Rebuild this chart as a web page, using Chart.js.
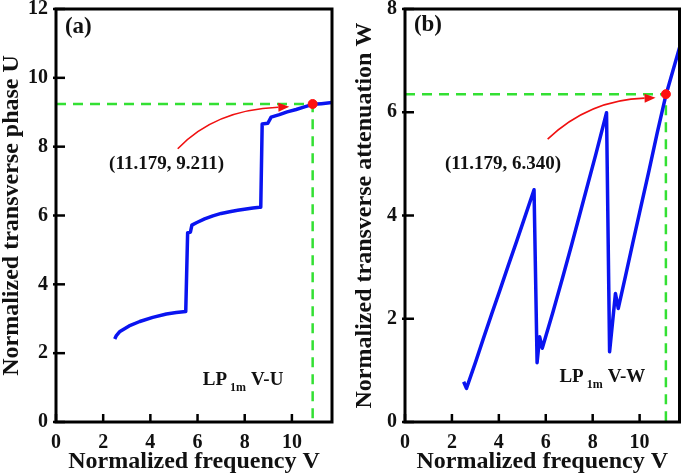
<!DOCTYPE html>
<html>
<head>
<meta charset="utf-8">
<script src="https://cdn.jsdelivr.net/npm/chart.js"></script>
<style>
body { margin: 0; background: #fff; }
#wrap { position: relative; width: 685px; height: 476px; }
.panel { position: absolute; top: 0; }
</style>
</head>
<body>
<div id="wrap">
  <div class="panel" style="left:0"><canvas id="ca" width="342" height="476"></canvas></div>
  <div class="panel" style="left:342px"><canvas id="cb" width="343" height="476"></canvas></div>
</div>
<script>
var xTicks = [0, 2, 4, 6, 8, 10];
var uTicks = [0, 2, 4, 6, 8, 10, 12];
var wTicks = [0, 2, 4, 6, 8];

// (a) LP1m V-U
var vA = [2.49, 2.55, 2.71, 3.1, 3.55, 4.1, 4.68, 5.1, 5.50, 5.58, 5.63, 5.70, 5.76, 5.95, 6.3, 6.65, 7.0, 7.36, 7.7, 8.06, 8.35, 8.63, 8.68, 8.74, 8.98, 9.12, 9.47, 9.8, 10.18, 10.5, 10.88, 11.25, 11.7];
var uA = [2.41, 2.50, 2.63, 2.79, 2.92, 3.04, 3.14, 3.18, 3.21, 5.50, 5.50, 5.52, 5.72, 5.79, 5.90, 5.99, 6.06, 6.11, 6.15, 6.19, 6.22, 6.24, 6.24, 8.66, 8.68, 8.86, 8.93, 9.01, 9.08, 9.15, 9.23, 9.25, 9.28];

// (b) LP1m V-W
var vB = [2.50, 2.62, 3.0, 3.35, 3.7, 4.05, 4.4, 4.75, 5.1, 5.50, 5.63, 5.74, 5.85, 6.3, 6.72, 7.1, 7.43, 7.8, 8.13, 8.59, 8.72, 8.97, 9.09, 9.4, 9.7, 10.0, 10.4, 10.75, 11.12, 11.7];
var wB = [0.78, 0.65, 1.15, 1.63, 2.10, 2.56, 3.03, 3.49, 3.96, 4.50, 1.15, 1.65, 1.43, 2.12, 2.80, 3.43, 3.99, 4.62, 5.18, 5.99, 1.36, 2.49, 2.20, 2.83, 3.45, 4.06, 4.87, 5.60, 6.33, 7.25];

// marked points
var markA = [10.88, 9.24];
var markB = [11.12, 6.35];

function pts(xs, ys) {
  return xs.map(function (x, i) { return { x: x, y: ys[i] }; });
}

var serif = 'Liberation Serif';

var panelPlugin = {
  id: 'panel',
  afterDraw: function (chart, args, o) {
    var ctx = chart.ctx, a = chart.chartArea;
    var xs = chart.scales.x, ys = chart.scales.y;
    function px(v) { return xs.getPixelForValue(v); }
    function py(v) { return ys.getPixelForValue(v); }
    ctx.save();
    ctx.strokeStyle = '#000';
    ctx.lineWidth = 2.5;
    xs.ticks.forEach(function (t) {
      var x = px(t.value);
      ctx.beginPath(); ctx.moveTo(x, a.bottom); ctx.lineTo(x, a.bottom - 8); ctx.stroke();
    });
    ys.ticks.forEach(function (t) {
      var y = py(t.value);
      ctx.beginPath(); ctx.moveTo(a.left - 3, y); ctx.lineTo(a.left + 9, y); ctx.stroke();
    });
    ctx.lineWidth = 3;
    ctx.strokeRect(a.left, a.top, a.right - a.left, a.bottom - a.top);

    // curved red arrow
    var ar = o.arrow;
    var x0 = px(ar[0]), y0 = py(ar[1]), cx = px(ar[2]), cy = py(ar[3]), x1 = px(ar[4]), y1 = py(ar[5]);
    ctx.strokeStyle = '#f01010';
    ctx.fillStyle = '#f01010';
    ctx.lineWidth = 1.6;
    var ang = Math.atan2(y1 - cy, x1 - cx);
    var bx = x1 - 11 * Math.cos(ang), by = y1 - 11 * Math.sin(ang);
    ctx.beginPath(); ctx.moveTo(x0, y0); ctx.quadraticCurveTo(cx, cy, bx, by); ctx.stroke();
    ctx.beginPath();
    ctx.moveTo(x1, y1);
    ctx.lineTo(bx + 4.5 * Math.sin(ang), by - 4.5 * Math.cos(ang));
    ctx.lineTo(bx - 4.5 * Math.sin(ang), by + 4.5 * Math.cos(ang));
    ctx.closePath(); ctx.fill();

    // texts
    ctx.fillStyle = '#111';
    ctx.font = 'bold 23px ' + serif;
    ctx.textAlign = 'left'; ctx.textBaseline = 'middle';
    ctx.fillText(o.tag, px(o.tagAt[0]), py(o.tagAt[1]));

    ctx.font = 'bold 19px ' + serif;
    ctx.textAlign = 'center';
    ctx.fillText(o.coord, px(o.coordAt[0]), py(o.coordAt[1]));

    ctx.textAlign = 'left'; ctx.textBaseline = 'alphabetic';
    var lx = px(o.lpAt[0]), ly = py(o.lpAt[1]);
    ctx.font = 'bold 19px ' + serif;
    ctx.fillText('LP', lx, ly);
    var w = ctx.measureText('LP').width;
    ctx.font = 'bold 12px ' + serif;
    ctx.fillText('1m', lx + w + 3, ly + 6);
    var w2 = ctx.measureText('1m').width;
    ctx.font = 'bold 19px ' + serif;
    ctx.fillText(o.lpText, lx + w + w2 + 8, ly);
    ctx.restore();
  }
};

function makeChart(id, xv, yv, mark, yMax, yTicks, yTitle, padLeft, yWidth, padRight, ann) {
  var dashPts = [{ x: 0, y: mark[1] }, { x: mark[0], y: mark[1] }, { x: mark[0], y: 0 }];
  return new Chart(document.getElementById(id).getContext('2d'), {
    type: 'scatter',
    data: {
      datasets: [{
        data: [{ x: mark[0], y: mark[1] }],
        backgroundColor: '#ff1010',
        borderColor: '#ff1010',
        pointRadius: 4.5,
        order: 0
      }, {
        data: pts(xv, yv),
        showLine: true,
        borderColor: '#0a14f0',
        borderWidth: 3.5,
        borderJoinStyle: 'round',
        pointRadius: 0,
        tension: 0,
        order: 1
      }, {
        data: dashPts,
        showLine: true,
        borderColor: '#33e033',
        borderWidth: 2.5,
        borderDash: [10, 7],
        pointRadius: 0,
        order: 2
      }]
    },
    options: {
      responsive: false,
      animation: false,
      devicePixelRatio: 1,
      layout: { padding: { top: 9, right: padRight, left: padLeft, bottom: 0 } },
      plugins: { legend: { display: false }, tooltip: { enabled: false }, panel: ann },
      scales: {
        x: {
          type: 'linear', min: 0, max: 11.7,
          grid: { display: false, drawTicks: false },
          border: { display: false },
          afterBuildTicks: function (s) { s.ticks = xTicks.map(function (v) { return { value: v }; }); },
          afterFit: function (s) { s.height = 54; s.paddingLeft = 0; s.paddingRight = 0; },
          ticks: { padding: 9, color: '#111', font: { family: serif, size: 20, weight: 'bold' } },
          title: { display: true, text: 'Normalized frequency V', color: '#111',
                   padding: { top: 0, bottom: 2 },
                   font: { family: serif, size: 24, weight: 'bold', lineHeight: 1 } }
        },
        y: {
          type: 'linear', min: 0, max: yMax,
          grid: { display: false, drawTicks: false },
          border: { display: false },
          afterBuildTicks: function (s) { s.ticks = yTicks.map(function (v) { return { value: v }; }); },
          afterFit: function (s) { s.width = yWidth; s.paddingTop = 0; s.paddingBottom = 0; },
          ticks: { padding: 8, color: '#111', font: { family: serif, size: 20, weight: 'bold' } },
          title: { display: true, text: yTitle, color: '#111',
                   padding: { top: 0, bottom: 0 },
                   font: { family: serif, size: 24, weight: 'bold', lineHeight: 1 } }
        }
      }
    },
    plugins: [panelPlugin]
  });
}

makeChart('ca', vA, uA, markA, 12, uTicks, 'Normalized transverse phase U', 0, 56, 10, {
  tag: '(a)', tagAt: [0.38, 11.48],
  coord: '(11.179, 9.211)', coordAt: [4.69, 7.5],
  arrow: [5.16, 7.94, 6.72, 9.07, 9.89, 9.16],
  lpAt: [6.22, 1.08], lpText: 'V-U'
});

makeChart('cb', vB, wB, markB, 8, wTicks, 'Normalized transverse attenuation W', 11, 52, 4, {
  tag: '(b)', tagAt: [0.38, 7.68],
  coord: '(11.179, 6.340)', coordAt: [4.18, 5.0],
  arrow: [6.08, 5.48, 7.85, 6.24, 10.68, 6.28],
  lpAt: [6.58, 0.78], lpText: 'V-W'
});
</script>
</body>
</html>
